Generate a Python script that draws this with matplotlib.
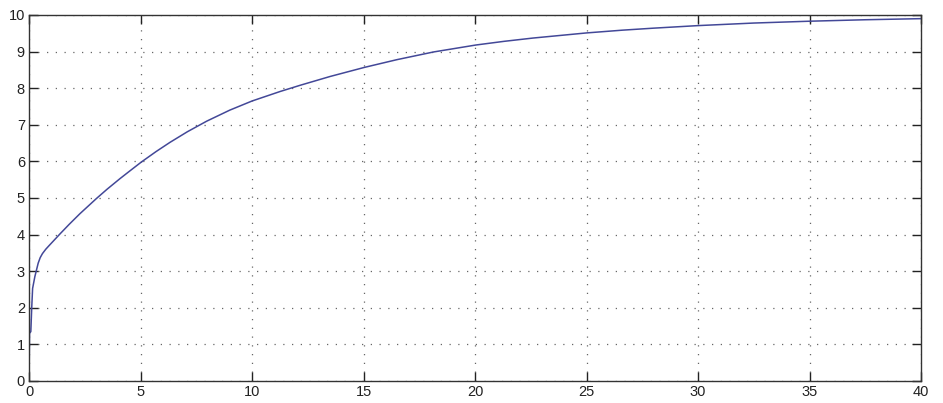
import matplotlib.pyplot as plt

# curve values
t = [0, 0.02, 0.08, 0.12, 0.16, 0.26, 0.41, 0.5, 0.6, 0.75, 0.9, 1.39, 1.8,
     2.28, 3.03, 3.5, 4.08, 4.5, 5.03, 5.7, 6.32, 7.1, 7.97, 9.0, 10.0, 11.26,
     12.16, 13.5, 15.05, 16.5, 18.14, 20.04, 21.3, 22.6, 25.0, 26.6, 28.0, 30.0,
     32.5, 35.0, 37.5, 40.0]
y = [0, 1.3, 1.35, 2.0, 2.53, 2.85, 3.22, 3.37, 3.48, 3.6, 3.7, 4.02, 4.28,
     4.57, 4.99, 5.24, 5.53, 5.73, 5.98, 6.27, 6.52, 6.81, 7.1, 7.4, 7.65, 7.91,
     8.08, 8.32, 8.57, 8.78, 8.99, 9.18, 9.28, 9.37, 9.51, 9.585, 9.64, 9.71,
     9.78, 9.83, 9.87, 9.9]

xticks = list(range(0, 41, 5))
yticks = list(range(0, 11))

plt.rcParams["font.family"] = ["Liberation Sans", "DejaVu Sans"]

fig = plt.figure(figsize=(9.43, 4.03), dpi=100)
ax = fig.add_axes([0.0308, 0.0546, 0.9459, 0.9082])

ax.plot(t, y, color="#434898", linewidth=1.1)

ax.set_xlim(0, 40)
ax.set_ylim(0, 10)
ax.set_xticks(xticks)
ax.set_yticks(yticks)
ax.grid(True, linestyle=(0, (1, 6)), color="#666666", linewidth=0.9)
ax.tick_params(direction="in", top=True, right=True, length=6.5, width=1.0,
               labelsize=10.5, pad=3, colors="#222222")
for s in ax.spines.values():
    s.set_linewidth(1.0)
    s.set_color("#333333")

fig.savefig("out.png", dpi=100, facecolor="white")
